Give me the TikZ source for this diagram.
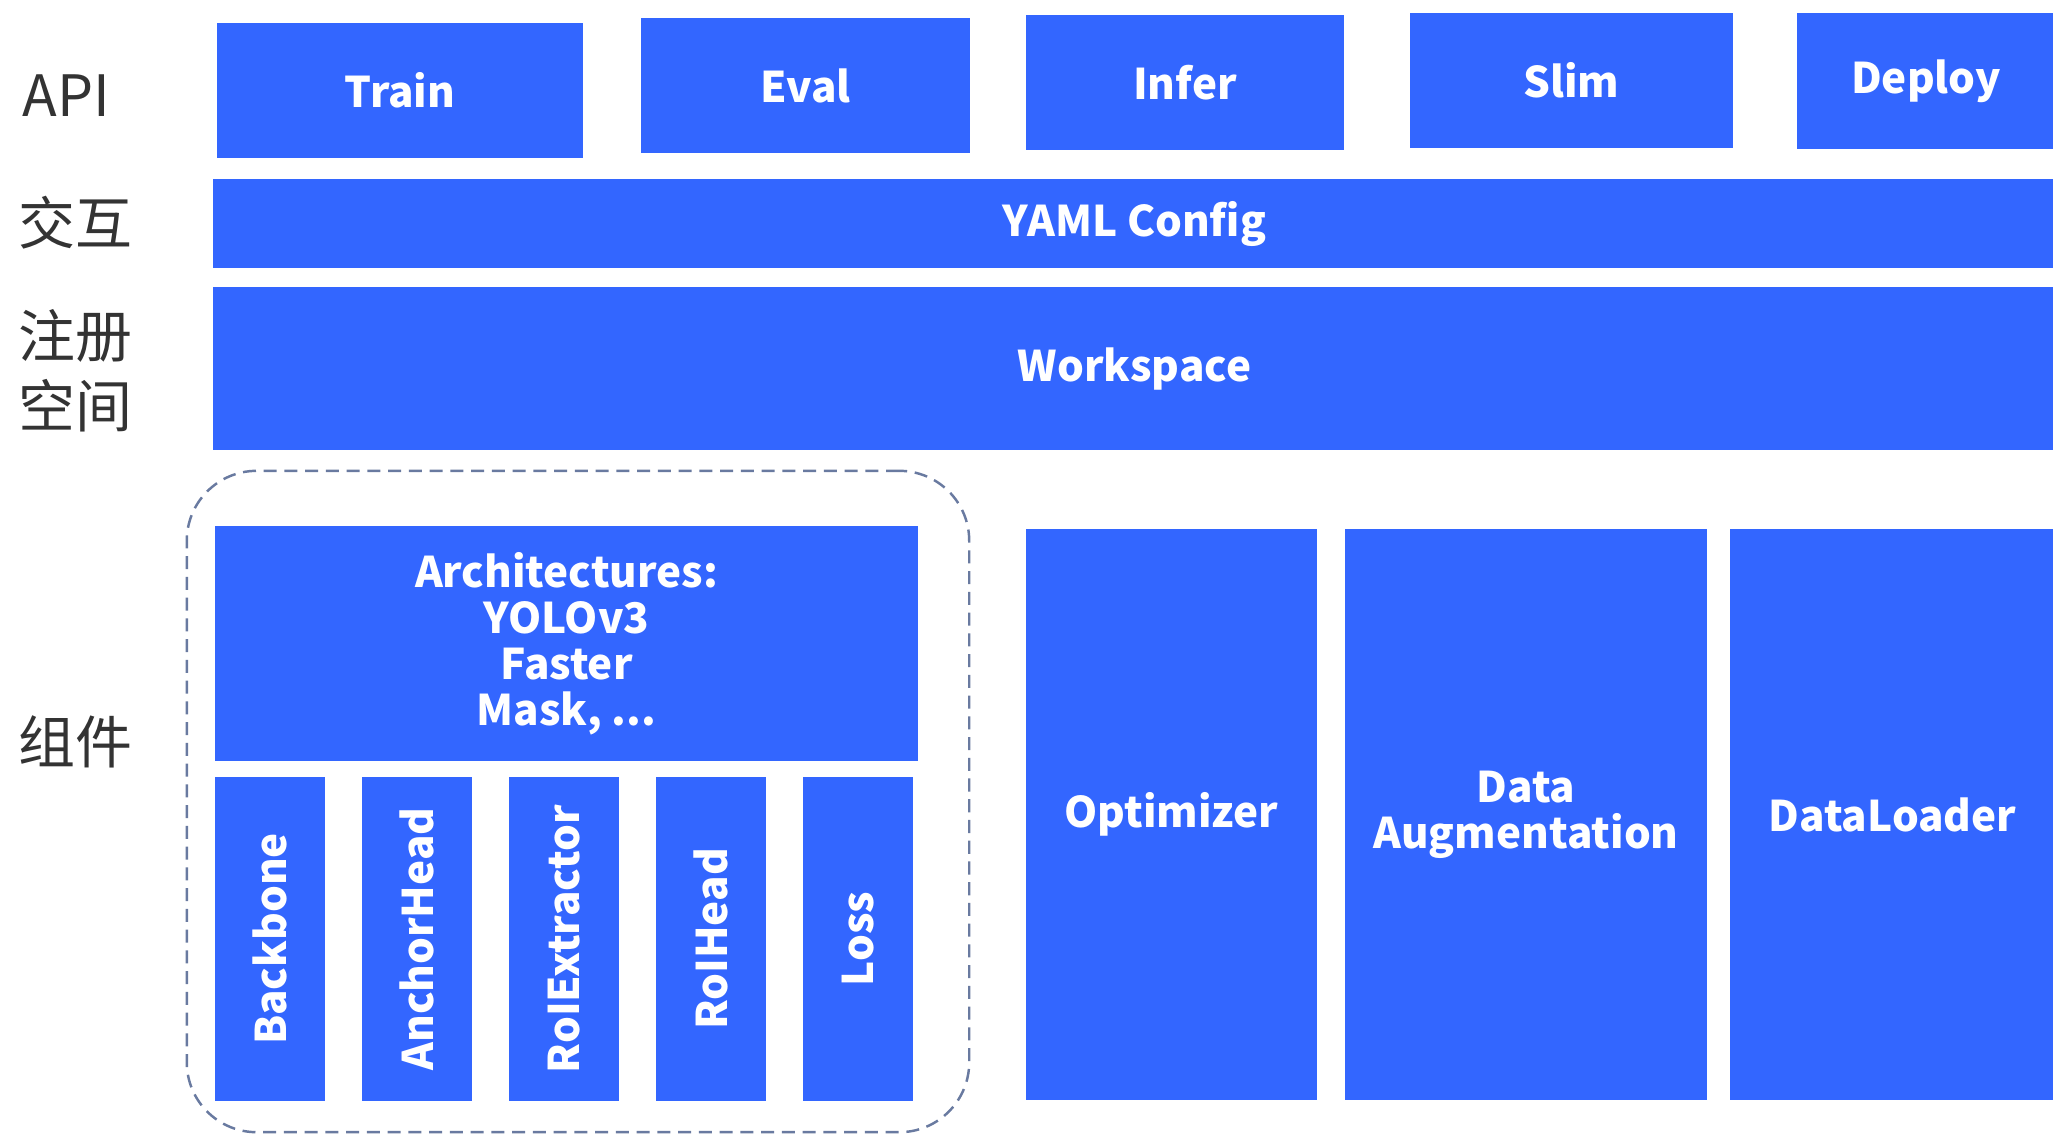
\documentclass[tikz,border=0pt]{standalone}
\usepackage{fontspec}
\usetikzlibrary{positioning}
\newfontfamily\cjk{Noto Sans CJK SC}
\definecolor{boxblue}{RGB}{51,102,255}
\definecolor{dashgray}{RGB}{105,122,160}

\begin{document}
\begin{tikzpicture}[x=0.01cm,y=-0.01cm,node distance=0.355cm,
		block/.style={fill=boxblue,text=white,inner sep=0pt,align=center,
			font=\cjk\bfseries\fontsize{12.0}{13.1}\selectfont},
		part/.style={block,minimum width=1.10cm,minimum height=3.24cm},
		layer/.style={anchor=west,inner sep=0pt,align=left,text=black!80,
			font=\cjk\fontsize{16.2}{19.9}\selectfont},
		group/.style={draw=dashgray,dashed,dash pattern=on 3.7pt off 2.2pt,
			line width=0.7pt,rounded corners=0.7cm}]
				\useasboundingbox (0,0) rectangle (2053,1135);

				\node[layer] (api) at (22,96) {API};
				\node[layer] (inter) at (18,223) {交互};
				\node[layer] (reg) at (18,371) {注册\\空间};
				\node[layer] (comp) at (18,742) {组件};

				\node[block,minimum width=3.66cm,minimum height=1.35cm] (train) at (400,90.5) {Train};
				\node[block,minimum width=3.29cm,minimum height=1.35cm] (eval) at (805.5,85.5) {Eval};
				\node[block,minimum width=3.18cm,minimum height=1.35cm] (infer) at (1185,82.5) {Infer};
				\node[block,minimum width=3.23cm,minimum height=1.35cm] (slim) at (1571.5,80.5) {Slim};
				\node[block,minimum width=2.58cm,minimum height=1.36cm] (deploy) at (1926,81) {Deploy};

				\node[block,minimum width=18.41cm,minimum height=0.89cm] (yaml) at (1134.5,223.5) {YAML Config};
				\node[block,minimum width=18.41cm,minimum height=1.63cm] (workspace) at (1134.5,368.5) {Workspace};

				\node[group,minimum width=7.82cm,minimum height=6.61cm] (models) at (578,801.5) {};
				\node[block,minimum width=7.03cm,minimum height=2.35cm] (arch) at (566.5,643.5) {Architectures:\\YOLOv3\\Faster\\Mask, ...};

				\node[part] (backbone) at (270,939) {\rotatebox{90}{Backbone}};
				\node[part,right=of backbone] (anchorhead) {\rotatebox{90}{AnchorHead}};
				\node[part,right=of anchorhead] (roiextractor) {\rotatebox{90}{RoIExtractor}};
				\node[part,right=of roiextractor] (roihead) {\rotatebox{90}{RoIHead}};
				\node[part,right=of roihead] (loss) {\rotatebox{90}{Loss}};

				\node[block,minimum width=2.91cm,minimum height=5.71cm] (optimizer) at (1171.5,814.5) {Optimizer};
				\node[block,minimum width=3.62cm,minimum height=5.71cm] (augment) at (1526,814.5) {Data\\Augmentation};
				\node[block,minimum width=3.25cm,minimum height=5.71cm] (loader) at (1892.5,814.5) {DataLoader};

			\end{tikzpicture}
\end{document}
